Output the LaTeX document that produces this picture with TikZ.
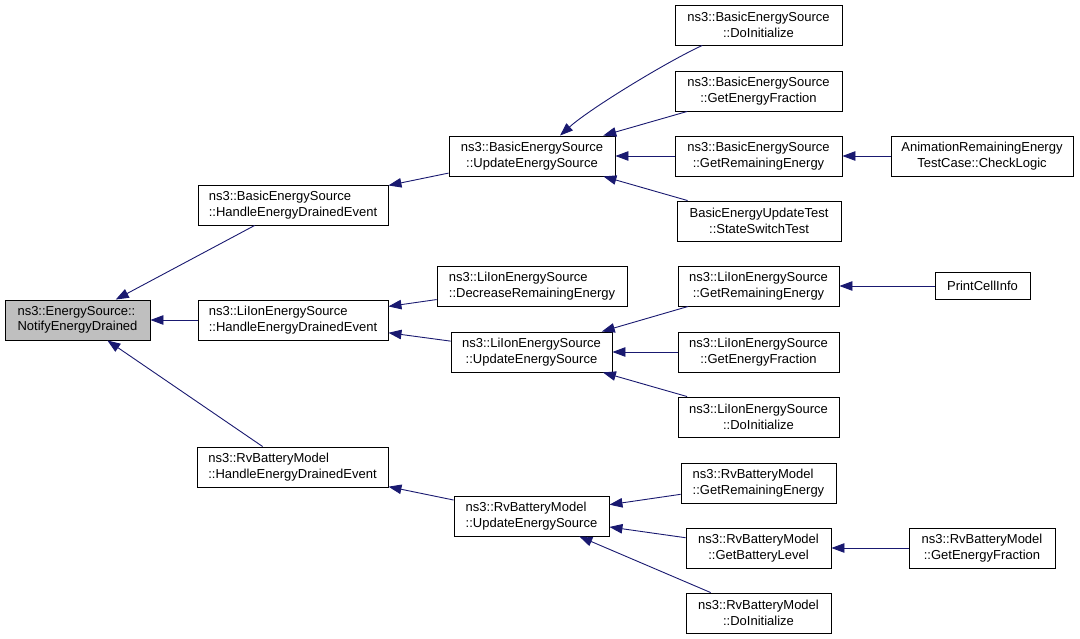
\documentclass[tikz,border=0pt]{standalone}
\usepackage{fontspec}
\setmainfont{Liberation Sans}
\usetikzlibrary{arrows.meta,calc}
\definecolor{edgeblue}{HTML}{191970}
\definecolor{boxgray}{HTML}{BFBFBF}
\begin{document}
\begin{tikzpicture}[x=1pt,y=-1pt,
  box/.style={draw=black, line width=0.9pt, inner sep=0pt, minimum height=40pt,
    font=\fontsize{13}{15.5}\selectfont, align=center},
  lbox/.style={box, align=left},
  edge/.style={draw=edgeblue, line width=0.9pt, -{Triangle[length=13pt,width=9.5pt]}}]
\useasboundingbox (0,0) rectangle (1080,639);
% column 0
\node[lbox, fill=boxgray, minimum width=145pt] (A) at (77.5,320) {ns3::EnergySource::\\NotifyEnergyDrained};
% column 1
\node[lbox, minimum width=190pt] (B1) at (293,205) {ns3::BasicEnergySource\\::HandleEnergyDrainedEvent};
\node[lbox, minimum width=190pt] (B2) at (293,320) {ns3::LiIonEnergySource\\::HandleEnergyDrainedEvent};
\node[lbox, minimum width=191pt] (B3) at (292.5,467) {ns3::RvBatteryModel\\::HandleEnergyDrainedEvent};
% column 2
\node[box, minimum width=166pt] (C1) at (532,156) {ns3::BasicEnergySource\\::UpdateEnergySource};
\node[lbox, minimum width=190pt] (C2) at (532,286) {ns3::LiIonEnergySource\\::DecreaseRemainingEnergy};
\node[box, minimum width=161pt] (C3) at (531.5,352) {ns3::LiIonEnergySource\\::UpdateEnergySource};
\node[lbox, minimum width=155pt] (C4) at (531.5,516) {ns3::RvBatteryModel\\::UpdateEnergySource};
% column 3
\node[box, minimum width=167pt] (D1) at (758.5,25) {ns3::BasicEnergySource\\::DoInitialize};
\node[box, minimum width=167pt] (D2) at (758.5,91) {ns3::BasicEnergySource\\::GetEnergyFraction};
\node[box, minimum width=167pt] (D3) at (758.5,156) {ns3::BasicEnergySource\\::GetRemainingEnergy};
\node[box, minimum width=164pt] (D4) at (759,221) {BasicEnergyUpdateTest\\::StateSwitchTest};
\node[box, minimum width=161pt] (D5) at (758.5,286) {ns3::LiIonEnergySource\\::GetRemainingEnergy};
\node[box, minimum width=161pt] (D6) at (758.5,352) {ns3::LiIonEnergySource\\::GetEnergyFraction};
\node[box, minimum width=161pt] (D7) at (758.5,417) {ns3::LiIonEnergySource\\::DoInitialize};
\node[lbox, minimum width=155pt] (D8) at (758.5,483) {ns3::RvBatteryModel\\::GetRemainingEnergy};
\node[box, minimum width=145pt] (D9) at (758.5,548) {ns3::RvBatteryModel\\::GetBatteryLevel};
\node[box, minimum width=145pt] (D10) at (758.5,613) {ns3::RvBatteryModel\\::DoInitialize};
% column 4
\node[box, minimum width=182pt] (E1) at (982,156) {AnimationRemainingEnergy\\TestCase::CheckLogic};
\node[box, minimum width=95pt, minimum height=27pt] (P) at (982.5,286) {PrintCellInfo};
\node[box, minimum width=146pt] (E3) at (982,548) {ns3::RvBatteryModel\\::GetEnergyFraction};
% edges
\draw[edge] (B1) -- (A);
\draw[edge] (B2) -- (A);
\draw[edge] (B3) -- (A);
\draw[edge] (C1) -- (B1);
\draw[edge] (C2) -- (B2);
\draw[edge] (C3) -- (B2);
\draw[edge] (C4) -- (B3);
\draw[edge] (D1.200) .. controls +(-35,16) and +(30,-27) .. ($(C1.north)+(28,0)$);
\draw[edge] (D2) -- (C1);
\draw[edge] (D3) -- (C1);
\draw[edge] (D4) -- (C1);
\draw[edge] (E1) -- (D3);
\draw[edge] (D5) -- (C3);
\draw[edge] (D6) -- (C3);
\draw[edge] (D7) -- (C3);
\draw[edge] (P) -- (D5);
\draw[edge] (D8) -- (C4);
\draw[edge] (D9) -- (C4);
\draw[edge] (D10) -- (C4);
\draw[edge] (E3) -- (D9);
\end{tikzpicture}
\end{document}
